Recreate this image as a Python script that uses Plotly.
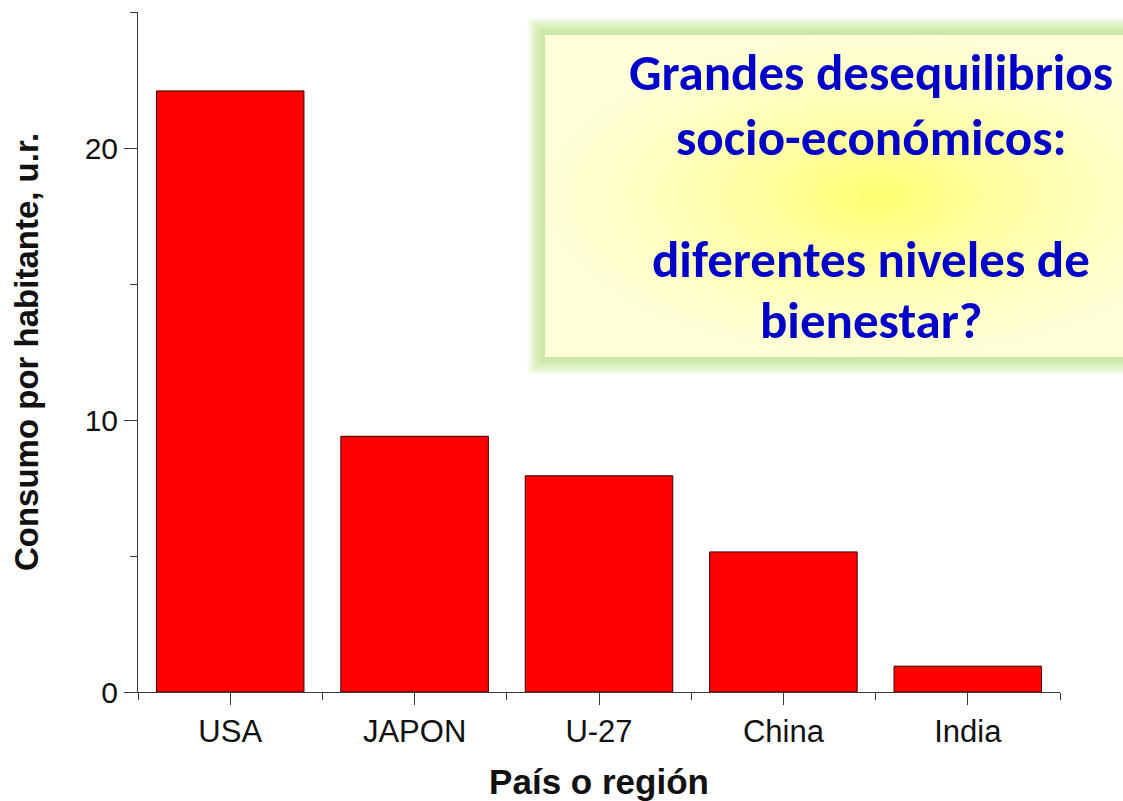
import plotly.graph_objects as go

# Consumption per inhabitant by country / region (relative units)
regions = ["USA", "JAPON", "U-27", "China", "India"]
consumo = [22.1, 9.4, 7.95, 5.15, 0.95]

y_ticks = [0, 10, 20]
y_max = 25

callout_lines = [
    "Grandes desequilibrios",
    "socio-económicos:",
    "diferentes niveles de",
    "bienestar?",
]

W, H = 1123, 801
M_L, M_B = 138, 109
PLOT_RIGHT = 1060     # right end of the bar axes, px
PLOT_TOP = 12         # top of the value axis, px
paper_w = W - M_L
paper_h = H - M_B

AXIS_COLOR = "#3a3a3a"
LABEL_FONT = "Arial, Liberation Sans, sans-serif"
CALLOUT_FONT = "Calibri, Carlito, Lato, sans-serif"

fig = go.Figure()

fig.add_trace(go.Bar(
    x=list(range(len(regions))),
    y=consumo,
    width=0.8,
    marker=dict(color="#FF0000", line=dict(color="#3a0000", width=1)),
    showlegend=False,
    hoverinfo="skip",
))

# Callout box (own full-width subplot in pixel units): soft green glow
# behind a radial yellow fill
bx0, bx1, by0, by1 = 545, 1210, 35, 357
glow_steps = 16
for i in range(glow_steps, 0, -1):
    pad = i * 1.1
    fig.add_shape(
        type="rect", xref="x2", yref="y2", layer="below",
        x0=bx0 - pad, x1=bx1 + pad, y0=by0 - pad, y1=by1 + pad,
        line=dict(width=0), fillcolor="rgba(185,228,120,0.065)",
    )

fig.add_trace(go.Scatter(
    x=[bx0, bx1, bx1, bx0, bx0],
    y=[by0, by0, by1, by1, by0],
    xaxis="x2", yaxis="y2",
    mode="lines", line=dict(width=0),
    fill="toself",
    fillgradient=dict(
        type="radial",
        colorscale=[[0, "#FFFF70"], [0.35, "#FFFFA0"], [0.75, "#FFFFC6"], [1, "#FFFFD8"]],
    ),
    showlegend=False, hoverinfo="skip",
))

line_y = [72, 137, 259, 320]
for txt, yy in zip(callout_lines, line_y):
    fig.add_annotation(
        text=txt, xref="x2", yref="y2", x=871, y=yy,
        xanchor="center", yanchor="middle", showarrow=False,
        font=dict(family=CALLOUT_FONT, size=51, color="#0000C8", weight="bold"),
    )

fig.update_layout(
    width=W, height=H,
    margin=dict(l=M_L, r=0, t=0, b=M_B, pad=0),
    plot_bgcolor="rgba(0,0,0,0)", paper_bgcolor="white",
    xaxis=dict(
        domain=[0, (PLOT_RIGHT - M_L) / paper_w],
        range=[-0.5, len(regions) - 0.5],
        tickvals=list(range(len(regions))), ticktext=regions,
        ticks="outside", ticklen=12, tickwidth=1, tickcolor=AXIS_COLOR,
        minor=dict(tick0=-0.5, dtick=1, ticks="outside", ticklen=7, tickcolor=AXIS_COLOR),
        showline=True, linecolor=AXIS_COLOR, linewidth=1,
        showgrid=False, zeroline=False,
        tickfont=dict(family=LABEL_FONT, size=31, color="#111111"),
        title=dict(text="País o región", standoff=26,
                   font=dict(family=LABEL_FONT, size=35, color="#111111", weight="bold")),
    ),
    yaxis=dict(
        domain=[0, (paper_h - PLOT_TOP) / paper_h],
        range=[0, y_max],
        tickvals=y_ticks,
        ticks="outside", ticklen=13, tickwidth=1, tickcolor=AXIS_COLOR,
        minor=dict(dtick=5, ticks="outside", ticklen=7, tickcolor=AXIS_COLOR),
        showline=True, linecolor=AXIS_COLOR, linewidth=1,
        showgrid=False, zeroline=False,
        tickfont=dict(family=LABEL_FONT, size=30, color="#111111"),
        title=dict(text="Consumo por habitante, u.r.", standoff=36,
                   font=dict(family=LABEL_FONT, size=33, color="#111111", weight="bold")),
    ),
    xaxis2=dict(domain=[0, 1], range=[M_L, W], anchor="y2",
                visible=False, fixedrange=True),
    yaxis2=dict(domain=[0, 1], range=[paper_h, 0], anchor="x2",
                visible=False, fixedrange=True),
)

fig.write_html("out.html")
